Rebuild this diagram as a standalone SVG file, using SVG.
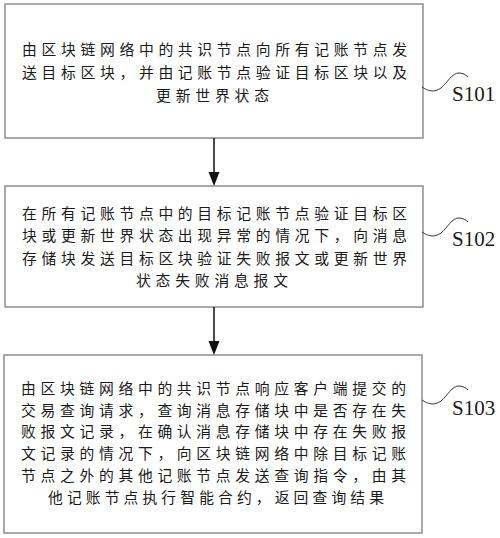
<svg xmlns="http://www.w3.org/2000/svg" width="500" height="538" viewBox="0 0 500 538">
<defs>
<style>
.box{fill:#fff;stroke:#8e8e8e;stroke-width:1.5}
.t{font-family:"Noto Sans CJK SC","Noto Sans",sans-serif;font-size:14.8px;fill:#1a1a1a}
.lbl{font-family:"Liberation Serif","Times New Roman",serif;font-size:21px;fill:#1a1a1a}
.sq{fill:none;stroke:#333;stroke-width:1}
.ln{stroke:#111;stroke-width:1.5}
</style>
<path id="squig" d="M0,0 C6,4 12,6 19,1 C26,-5 30,-14 37,-14 C41,-14 44,-12 46,-10"/>
</defs>
<rect width="500" height="538" fill="#fff"/>
<g id="S101">
<rect class="box" x="5" y="4" width="418" height="134"/>
<text class="t" x="22" y="55.2" textLength="385" lengthAdjust="spacing">由区块链网络中的共识节点向所有记账节点发</text>
<text class="t" x="22" y="77.7" textLength="385" lengthAdjust="spacing">送目标区块，并由记账节点验证目标区块以及</text>
<text class="t" x="156" y="100.7" textLength="113" lengthAdjust="spacing">更新世界状态</text>
<use href="#squig" class="sq" x="422" y="87"/>
<text class="lbl" x="452" y="101">S101</text>
</g>
<g id="S102">
<rect class="box" x="5" y="186" width="418" height="121"/>
<text class="t" x="22" y="218.7" textLength="385" lengthAdjust="spacing">在所有记账节点中的目标记账节点验证目标区</text>
<text class="t" x="22" y="241.2" textLength="385" lengthAdjust="spacing">块或更新世界状态出现异常的情况下，向消息</text>
<text class="t" x="22" y="263.7" textLength="385" lengthAdjust="spacing">存储块发送目标区块验证失败报文或更新世界</text>
<text class="t" x="136" y="286.2" textLength="152" lengthAdjust="spacing">状态失败消息报文</text>
<use href="#squig" class="sq" x="422" y="232"/>
<text class="lbl" x="452" y="246">S102</text>
</g>
<g id="S103">
<rect class="box" x="4" y="355" width="418" height="178"/>
<text class="t" x="21" y="393.7" textLength="385" lengthAdjust="spacing">由区块链网络中的共识节点响应客户端提交的</text>
<text class="t" x="21" y="415.5" textLength="385" lengthAdjust="spacing">交易查询请求，查询消息存储块中是否存在失</text>
<text class="t" x="21" y="437.3" textLength="385" lengthAdjust="spacing">败报文记录，在确认消息存储块中存在失败报</text>
<text class="t" x="21" y="459.1" textLength="385" lengthAdjust="spacing">文记录的情况下，向区块链网络中除目标记账</text>
<text class="t" x="21" y="480.9" textLength="385" lengthAdjust="spacing">节点之外的其他记账节点发送查询指令，由其</text>
<text class="t" x="48" y="502.7" textLength="336" lengthAdjust="spacing">他记账节点执行智能合约，返回查询结果</text>
<use href="#squig" class="sq" x="422" y="400"/>
<text class="lbl" x="452" y="415">S103</text>
</g>
<g id="connectors">
<line class="ln" x1="214" y1="138" x2="214" y2="174"/>
<polygon points="208.5,172 219.5,172 214,186" fill="#111"/>
<line class="ln" x1="214" y1="307" x2="214" y2="343"/>
<polygon points="208.5,341 219.5,341 214,355" fill="#111"/>
</g>
</svg>
